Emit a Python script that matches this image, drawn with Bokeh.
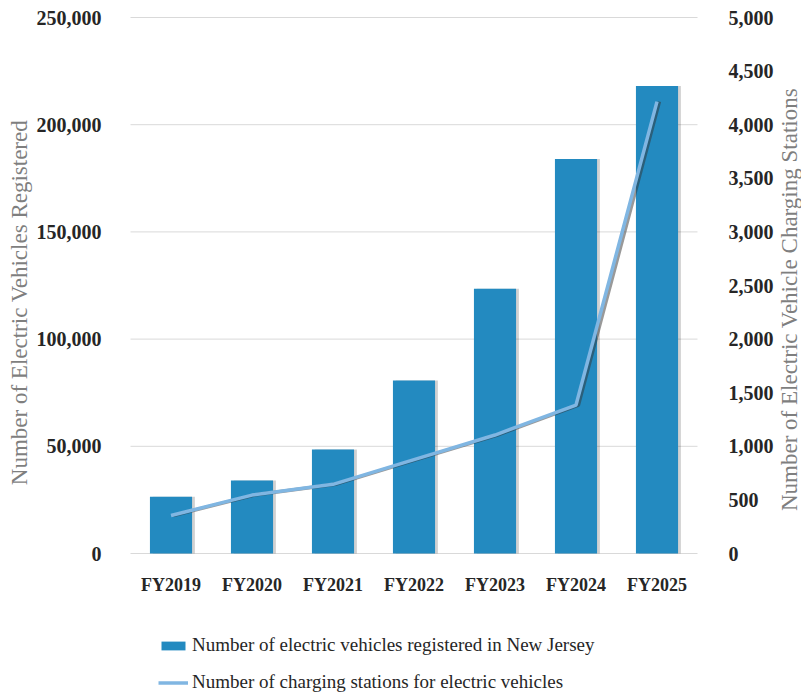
import math
from bokeh.plotting import figure
from bokeh.core.properties import value
from bokeh.models import (ColumnDataSource, LinearAxis, Range1d, NumeralTickFormatter,
                          Legend, LegendItem, FixedTicker)
from bokeh.transform import dodge
from bokeh.embed import file_html
from bokeh.resources import INLINE

# ---- data ----
years = ["FY2019", "FY2020", "FY2021", "FY2022", "FY2023", "FY2024", "FY2025"]
ev_registered = [26500, 34000, 48500, 80700, 123500, 184000, 218000]
charging_stations = [355, 545, 645, 875, 1105, 1385, 4215]
left_ticks = [0, 50000, 100000, 150000, 200000, 250000]
right_ticks = [0, 500, 1000, 1500, 2000, 2500, 3000, 3500, 4000, 4500, 5000]

bar_label = "Number of electric vehicles registered in New Jersey"
line_label = "Number of charging stations for electric vehicles"
left_title = "Number of Electric Vehicles Registered"
right_title = "Number of Electric Vehicle Charging Stations"

# ---- layout constants (page pixels) ----
W, H = 801, 696
OX, OY = 0, 0                 # figure offset on page
PLOT_L, PLOT_R = 130, 697     # plot area x
PLOT_T, PLOT_B = 17, 553      # plot area y
LEFT_MAX = left_ticks[-1]
RIGHT_MAX = right_ticks[-1]
n = len(years)

ux = (PLOT_R - PLOT_L) / n                    # px per category
x_start = -0.5 - (PLOT_L - OX) / ux
x_end = n - 0.5 + (OX + W - PLOT_R) / ux
uy = (PLOT_B - PLOT_T) / LEFT_MAX             # px per unit (left)
y_start = -(OY + H - PLOT_B) / uy
y_end = LEFT_MAX + (PLOT_T - OY) / uy
k = RIGHT_MAX / LEFT_MAX


def px2x(px):
    return x_start + (px - OX) / ux


def px2y(py):
    return (PLOT_B - py) / uy


FONT = "Liberation Serif"
BAR_COLOR = "#238AC0"
LINE_COLOR = "#80B6E2"
TITLE_COLOR = "#7F7F7F"
TICK_COLOR = "#262626"
GRID_COLOR = "#D9D9D9"

idx = list(range(n))
src = ColumnDataSource(dict(i=idx, years=years, ev=ev_registered, st=charging_stations))

p = figure(x_range=Range1d(x_start, x_end), y_range=Range1d(y_start, y_end),
           width=W, height=H, output_backend="svg", toolbar_location=None,
           min_border_left=0, min_border_right=0, min_border_top=0, min_border_bottom=0)
p.outline_line_color = None
p.background_fill_color = "white"
p.border_fill_color = "white"
p.xgrid.grid_line_color = None
p.ygrid.grid_line_color = None
p.extra_y_ranges = {"st": Range1d(y_start * k, y_end * k)}

# gridlines at the left-axis ticks, limited to the plot area
p.segment(x0=[-0.5] * len(left_ticks), x1=[n - 0.5] * len(left_ticks),
          y0=left_ticks, y1=left_ticks, line_color=GRID_COLOR, line_width=1)

# bars (with a soft shadow)
p.vbar(x=dodge("i", 0.035), top="ev", width=0.52, source=src,
       fill_color="#000000", fill_alpha=0.18, line_color=None)
bars = p.vbar(x="i", top="ev", width=0.52, source=src, fill_color=BAR_COLOR, line_color=None)

# line (with a shadow)
p.line(x=dodge("i", 0.03), y="st", y_range_name="st", source=src,
       line_color="#333333", line_alpha=0.5, line_width=3.5)
ln = p.line(x="i", y="st", y_range_name="st", source=src, line_color=LINE_COLOR, line_width=3.5)

# axes
xa = p.xaxis[0]
xa.fixed_location = 0
xa.ticker = FixedTicker(ticks=idx)
xa.major_label_overrides = {i: y for i, y in zip(idx, years)}
xa.axis_line_color = None
xa.major_tick_line_color = None
xa.minor_tick_line_color = None
xa.major_label_text_font = FONT
xa.major_label_text_font_style = "bold"
xa.major_label_text_font_size = "18px"
xa.major_label_text_color = TICK_COLOR
xa.major_label_standoff = 15

ya = p.yaxis[0]
ya.fixed_location = -0.5
ya.ticker = FixedTicker(ticks=left_ticks)
ya.formatter = NumeralTickFormatter(format="0,0")

ra = LinearAxis(y_range_name="st", ticker=FixedTicker(ticks=right_ticks),
                formatter=NumeralTickFormatter(format="0,0"))
ra.fixed_location = n - 0.5
p.add_layout(ra, "right")

for ax in [ya, ra]:
    ax.axis_line_color = None
    ax.major_tick_line_color = None
    ax.minor_tick_line_color = None
    ax.major_label_text_font = FONT
    ax.major_label_text_font_style = "bold"
    ax.major_label_text_font_size = "20px"
    ax.major_label_text_color = TICK_COLOR
ya.major_label_standoff = 23
ra.major_label_standoff = 25

# axis titles (bottom-to-top)
p.text(x=[px2x(19), px2x(789)], y=[px2y(302), px2y(299)], text=[left_title, right_title],
       angle=math.pi / 2, text_align="center", text_baseline="middle",
       text_font=value(FONT), text_font_size="23px", text_color=TITLE_COLOR)

legend = Legend(items=[LegendItem(label=bar_label, renderers=[bars]),
                       LegendItem(label=line_label, renderers=[ln])],
                location=(158, 3), orientation="vertical",
                glyph_width=30, glyph_height=11, label_height=20, spacing=15,
                label_standoff=4, padding=0, margin=0,
                label_text_font=FONT, label_text_font_size="19px", label_text_color=TICK_COLOR,
                background_fill_alpha=0, border_line_color=None)
p.add_layout(legend, "center")

open("out.html", "w").write(file_html(p, INLINE))
